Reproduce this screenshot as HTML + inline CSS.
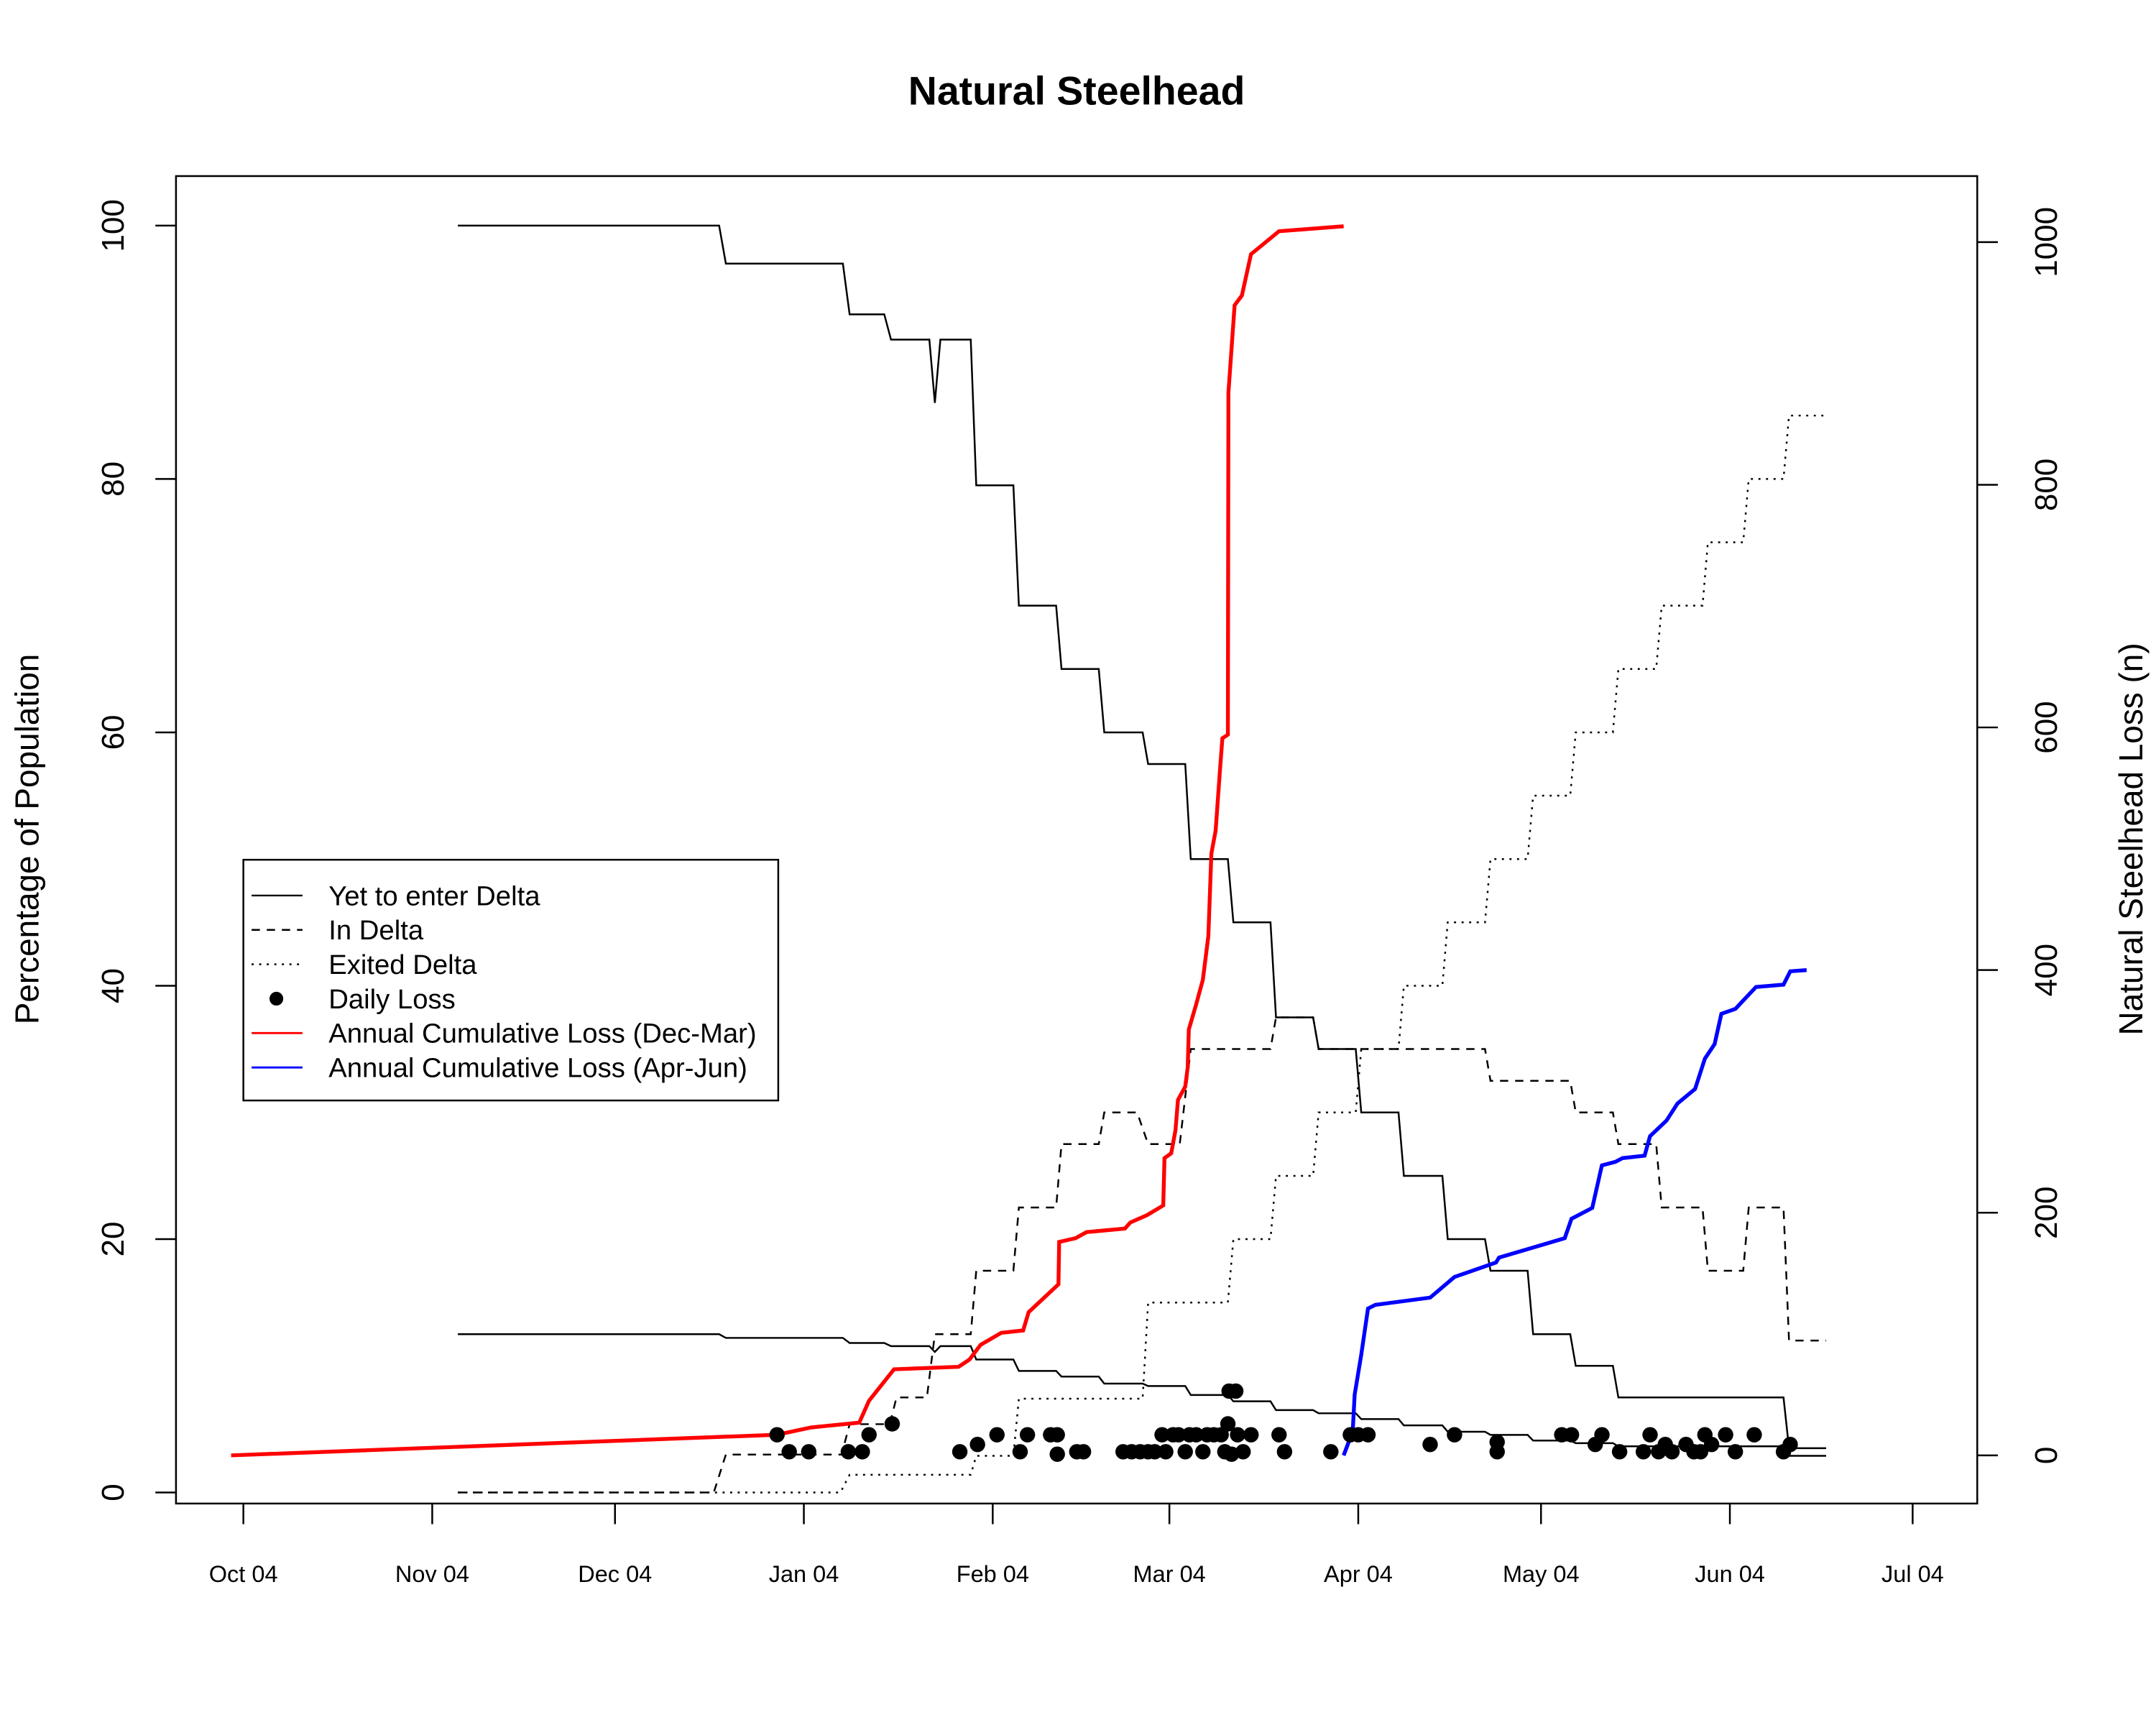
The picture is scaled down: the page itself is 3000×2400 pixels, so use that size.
<!DOCTYPE html>
<html><head><meta charset="utf-8"><style>
html,body{margin:0;padding:0;background:#fff;}
svg{display:block;font-family:"Liberation Sans",Arial,sans-serif;}
</style></head><body>
<svg id="chart" width="3000" height="2400" viewBox="0 0 1568 1254" preserveAspectRatio="none" xmlns="http://www.w3.org/2000/svg">
<rect x="0" y="0" width="1568" height="1254" fill="#fff"/>
<text x="783" y="76" text-anchor="middle" font-size="29" font-weight="bold">Natural Steelhead</text>
<rect x="128" y="128" width="1310" height="965" fill="none" stroke="#000" stroke-width="1.3"/>
<text transform="translate(28,610) rotate(-90)" text-anchor="middle" font-size="24">Percentage of Population</text>
<text transform="translate(1558,610) rotate(-90)" text-anchor="middle" font-size="24">Natural Steelhead Loss (n)</text>
<g id="axes"></g>
<g id="series"></g>
<g>
<rect x="177" y="625" width="389" height="175" fill="#fff" stroke="#000" stroke-width="1.3"/>
<g><line x1="183" y1="651" x2="220" y2="651" stroke="#000" stroke-width="1.3"/><text x="239" y="658" font-size="20">Yet to enter Delta</text></g>
<g><line x1="183" y1="676" x2="220" y2="676" stroke="#000" stroke-width="1.3" stroke-dasharray="6,5"/><text x="239" y="683" font-size="20">In Delta</text></g>
<g><line x1="183" y1="701" x2="220" y2="701" stroke="#000" stroke-width="1.3" stroke-dasharray="1.5,4"/><text x="239" y="708" font-size="20">Exited Delta</text></g>
<g><circle cx="201" cy="726" r="5" fill="#000"/><text x="239" y="733" font-size="20">Daily Loss</text></g>
<g><line x1="183" y1="751" x2="220" y2="751" stroke="#f00" stroke-width="1.5"/><text x="239" y="758" font-size="20">Annual Cumulative Loss (Dec-Mar)</text></g>
<g><line x1="183" y1="776" x2="220" y2="776" stroke="#00f" stroke-width="1.5"/><text x="239" y="783" font-size="20">Annual Cumulative Loss (Apr-Jun)</text></g>
</g>
</svg>
<script>
// data (days since Oct 1 2003; left axis % ; right axis n)
var monthLabels = ["Oct 04","Nov 04","Dec 04","Jan 04","Feb 04","Mar 04","Apr 04","May 04","Jun 04","Jul 04"];
var monthDays = [0,31,61,92,123,152,183,213,244,274];
var leftTicks = [0,20,40,60,80,100];
var rightTicks = [0,200,400,600,800,1000];

var yetDays = [35.2,78.1,79.2,98.4,99.5,105.2,106.3,112.6,113.5,114.4,119.4,120.3,126.4,127.3,133.4,134.3,140.4,141.3,147.6,148.5,154.6,155.5,161.6,162.5,168.6,169.5,175.6,176.5,182.6,183.5,189.6,190.5,196.8,197.7,203.8,204.7,210.8,211.7,217.8,218.7,224.8,225.7,252.8,253.7,259.8];
var yetVals = [100,100,97,97,93,93,91,91,86,91,91,79.5,79.5,70,70,65,65,60,60,57.5,57.5,50,50,45,45,37.5,37.5,35,35,30,30,25,25,20,20,17.5,17.5,12.5,12.5,10,10,7.5,7.5,3.5,3.5];
var yet2Vals = [12.5,12.5,12.2,12.2,11.8,11.8,11.55,11.55,11.1,11.55,11.55,10.5,10.5,9.6,9.6,9.15,9.15,8.6,8.6,8.4,8.4,7.7,7.7,7.2,7.2,6.5,6.5,6.25,6.25,5.8,5.8,5.3,5.3,4.8,4.8,4.55,4.55,4.1,4.1,3.9,3.9,3.65,3.65,2.9,2.9];

var inDays = [35.2,77.2,79.2,98.2,99.5,106.1,107.2,112.2,113.5,119.4,120.3,126.4,127.3,133.4,134.3,140.4,141.3,146.7,148.5,153.7,155.5,168.6,169.5,175.6,176.5,203.8,204.7,217.8,218.7,224.8,225.7,231.9,232.8,239.5,240.4,246.2,247.1,252.8,253.7,259.8];
var inVals = [0,0,3,3,5.4,5.4,7.5,7.5,12.5,12.5,17.5,17.5,22.5,22.5,27.5,27.5,30,30,27.5,27.5,35,35,37.5,37.5,35,35,32.5,32.5,30,30,27.5,27.5,22.5,22.5,17.5,17.5,22.5,22.5,12,12];

var exDays = [35.2,98,99.5,119.4,120.3,126.4,127.3,147.6,148.5,161.6,162.5,168.6,169.5,175.6,176.5,182.6,183.5,189.6,190.5,196.8,197.7,203.8,204.7,210.8,211.7,217.8,218.7,224.8,225.7,231.9,232.8,239.5,240.4,246.2,247.1,252.8,253.7,259.8];
var exVals = [0,0,1.4,1.4,2.9,2.9,7.4,7.4,15,15,20,20,25,25,30,30,35,35,40,40,45,45,50,50,55,55,60,60,65,65,70,70,75,75,80,80,85,85];

var redDays = [-2,87.6,93.2,101.1,102.7,106.8,117.4,119.2,121,124.4,128,128.9,133.8,133.9,136.6,138.4,144.7,145.6,148.3,151,151.2,152.3,153,153.4,154.6,155,155.2,156.4,157.5,158.4,158.9,159.6,160.3,160.7,161.6,161.7,162.7,163.9,165.4,170,180.6];
var redVals = [0,17,23,27,45,71,73,79,91,101,103,118,141,176,179,184,187,192,198,206,245,249,268,293,304,320,351,372,392,428,496,515,564,591,594,876,948,956,990,1009,1013];

var blueDays = [180.6,182.1,182.4,183.5,184.6,185.8,194.8,198.8,205.6,206.1,216.9,218,221.4,223,225.2,226.4,230,230.9,233.6,235.4,238.3,239.9,241.5,242.6,244.9,248.3,252.8,253.9,256.6];
var blueVals = [0,20,50,83,121,124,130,147,159,163,179,195,204,239,242,245,247,263,276,290,302,327,339,364,368,386,388,399,400];

var lossDays = [87.6,89.6,92.8,99.3,101.6,102.7,106.5,117.6,120.5,123.7,127.5,128.7,132.5,133.6,133.6,136.8,137.9,144.4,145.8,147.2,148.5,149.6,150.8,151.4,152.6,153.5,154.6,155.3,156.4,157.5,158.2,159.3,160.5,161.1,161.6,161.8,162.2,162.9,163.2,164.1,165.4,170,170.9,178.5,181.7,183,184.6,194.8,198.8,205.8,205.8,216.4,218,221.9,223,225.9,229.8,230.9,232.3,233.4,234.5,236.8,238.1,239.2,239.9,241,243.3,244.9,248,252.8,253.9];
var lossVals = [17,3,3,3,3,17,26,3,9,17,3,17,17,17,1,3,3,3,3,3,3,3,17,3,17,17,3,17,17,3,17,17,17,3,26,53,1,53,17,3,17,17,3,3,17,17,17,9,17,11,3,17,17,9,17,3,3,17,3,9,3,9,3,3,17,9,17,3,17,3,9];

var NS="http://www.w3.org/2000/svg";
function xS(d){return 177+d*4.4307;}
function yL(v){return 1085-v*9.21;}
function yR(n){return 1058-n*0.882;}
function mk(tag,attrs,parent){var e=document.createElementNS(NS,tag);for(var k in attrs)e.setAttribute(k,attrs[k]);parent.appendChild(e);return e;}
var axes=document.getElementById('axes');
var ser=document.getElementById('series');

// bottom axis
for(var i=0;i<monthDays.length;i++){
  var x=xS(monthDays[i]);
  var t=mk('line',{x1:x,y1:1093,x2:x,y2:1108,stroke:'#000','stroke-width':1.3},axes);
  
  
  var lb=mk('text',{x:x,y:1150,'text-anchor':'middle','font-size':17},axes);
  lb.textContent=monthLabels[i];
  
  
}
for(var i=0;i<leftTicks.length;i++){
  var y=yL(leftTicks[i]);
  var t=mk('line',{x1:113,y1:y,x2:128,y2:y,stroke:'#000','stroke-width':1.3},axes);
  
  
  var lb=mk('text',{transform:'translate(90,'+y+') rotate(-90)','text-anchor':'middle','font-size':23},axes);
  lb.textContent=leftTicks[i];
  
  
}
for(var i=0;i<rightTicks.length;i++){
  var y=yR(rightTicks[i]);
  var t=mk('line',{x1:1438,y1:y,x2:1453,y2:y,stroke:'#000','stroke-width':1.3},axes);
  
  
  var lb=mk('text',{transform:'translate(1496,'+y+') rotate(-90)','text-anchor':'middle','font-size':23},axes);
  lb.textContent=rightTicks[i];
  
  
}

function line(days,vals,yf,attrs,name){
  var pts=[];for(var i=0;i<days.length;i++)pts.push(xS(days[i]).toFixed(1)+','+yf(vals[i]).toFixed(1));
  attrs.points=pts.join(' ');attrs.fill='none';
  var p=mk('polyline',attrs,ser);
  
  
}
line(yetDays,yetVals,yL,{stroke:'#000','stroke-width':1.3},'yet-to-enter-line');
line(yetDays,yet2Vals,yL,{stroke:'#000','stroke-width':1.3},'yet-to-enter-line-secondary');
line(inDays,inVals,yL,{stroke:'#000','stroke-width':1.3,'stroke-dasharray':'6,5'},'in-delta-line');
line(exDays,exVals,yL,{stroke:'#000','stroke-width':1.3,'stroke-dasharray':'1.5,4'},'exited-delta-line');
line(redDays,redVals,yR,{stroke:'#f00','stroke-width':2.8},'cumulative-loss-dec-mar-line');
line(blueDays,blueVals,yR,{stroke:'#00f','stroke-width':2.8},'cumulative-loss-apr-jun-line');
for(var i=0;i<lossDays.length;i++){
  var c=mk('circle',{cx:xS(lossDays[i]),cy:yR(lossVals[i]),r:5.6,fill:'#000'},ser);
  
  
}
</script>
</body></html>
